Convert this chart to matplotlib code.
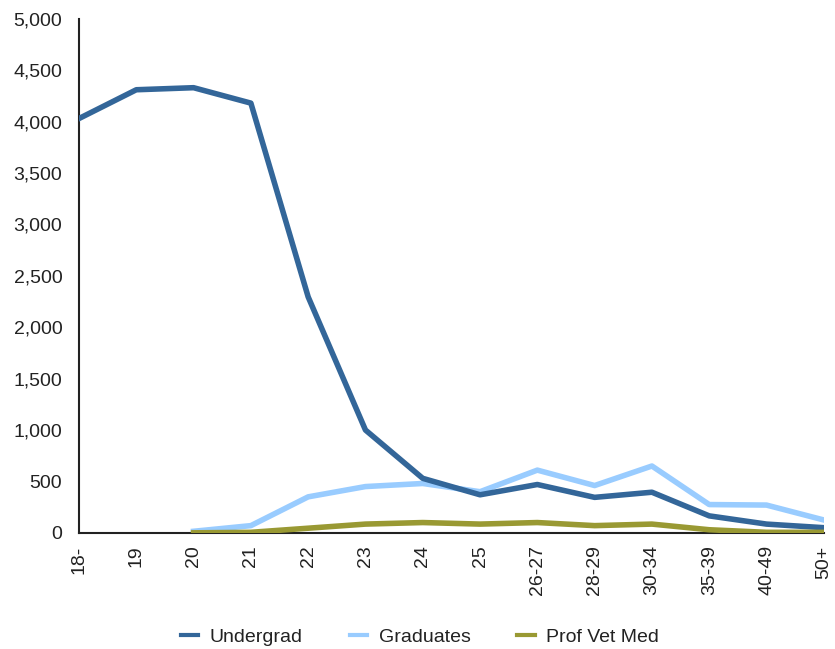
import matplotlib
matplotlib.use("Agg")
import matplotlib.pyplot as plt
import numpy as np

plt.rcParams["font.family"] = ["Liberation Sans", "DejaVu Sans"]

ages = ["18-", "19", "20", "21", "22", "23", "24", "25",
        "26-27", "28-29", "30-34", "35-39", "40-49", "50+"]
undergrad = [4030, 4310, 4330, 4180, 2295, 1000, 530, 370,
             470, 345, 395, 165, 85, 50]
graduates = [np.nan, np.nan, 15, 70, 350, 450, 480, 400,
             610, 460, 650, 275, 270, 125]
prof_vet_med = [np.nan, np.nan, 0, 5, 45, 85, 100, 85,
                100, 70, 85, 30, 5, 5]

fig = plt.figure(figsize=(8.35, 6.49), dpi=100)
ax = fig.add_axes([0.0946, 0.179, 0.892, 0.792])

x = np.arange(len(ages))
ax.plot(x, undergrad, color="#336699", lw=4, label="Undergrad", zorder=3)
ax.plot(x, graduates, color="#99CCFF", lw=4, label="Graduates", zorder=2)
ax.plot(x, prof_vet_med, color="#999933", lw=4, label="Prof Vet Med", zorder=4)

ax.set_xlim(0, len(ages) - 1)
ax.set_ylim(0, 5000)
ax.set_yticks(np.arange(0, 5001, 500))
ax.set_yticklabels([f"{v:,}" for v in range(0, 5001, 500)], fontsize=14, color="#222222")
ax.set_xticks(x)
ax.set_xticklabels(ages, rotation=90, fontsize=14, color="#222222")
ax.tick_params(axis="y", length=0, pad=12)
ax.tick_params(axis="x", length=0, pad=9)

for side in ["top", "right"]:
    ax.spines[side].set_visible(False)
for side in ["left", "bottom"]:
    ax.spines[side].set_color("#222222")
    ax.spines[side].set_linewidth(1.5)

leg = fig.legend(loc="center", bbox_to_anchor=(0.503, 0.018), ncol=3, frameon=False,
                 fontsize=14, handlelength=0.9, columnspacing=2.4, handletextpad=0.6)
for line in leg.get_lines():
    line.set_linewidth(3)
for txt in leg.get_texts():
    txt.set_color("#222222")

fig.savefig("out.png", dpi=100)
